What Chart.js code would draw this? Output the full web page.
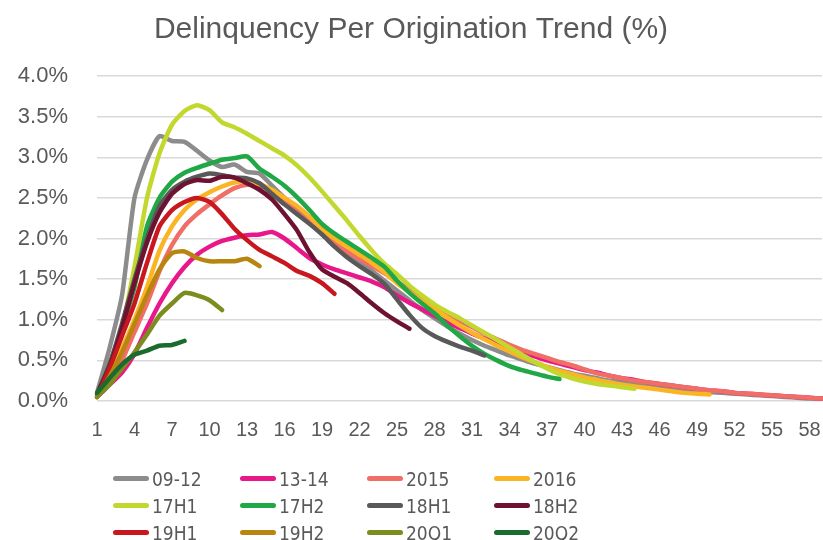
<!DOCTYPE html>
<html>
<head>
<meta charset="utf-8">
<script src="https://cdn.jsdelivr.net/npm/chart.js@4/dist/chart.umd.min.js"></script>
<style>
  body { margin: 0; background: #fff; }
  #wrap { position: relative; width: 823px; height: 540px; }
  #legend {
    position: absolute; left: 113px; top: 465px;
    display: grid; grid-template-columns: repeat(4, 127px); grid-auto-rows: 27px;
    font-family: "Liberation Sans Narrow", "DejaVu Sans Condensed", sans-serif;
    font-size: 19px; color: #595959;
  }
  .item { display: flex; align-items: center; }
  .swatch { width: 36px; height: 5px; border-radius: 3px; margin-right: 3px; }
</style>
</head>
<body>
<div id="wrap">
  <canvas id="graf" width="823" height="540"></canvas>
  <div id="legend"></div>
</div>
<script>
"use strict";

const maaneder = [1, 2, 3, 4, 5, 6, 7, 8, 9, 10, 11, 12, 13, 14, 15, 16, 17, 18, 19, 20,
  21, 22, 23, 24, 25, 26, 27, 28, 29, 30, 31, 32, 33, 34, 35, 36, 37, 38, 39, 40,
  41, 42, 43, 44, 45, 46, 47, 48, 49, 50, 51, 52, 53, 54, 55, 56, 57, 58, 59];
const visteMaaneder = [1, 4, 7, 10, 13, 16, 19, 22, 25, 28, 31, 34, 37, 40, 43, 46, 49, 52, 55, 58];
const yTicks = [0, 0.5, 1, 1.5, 2, 2.5, 3, 3.5, 4];

const navne = ["09-12", "13-14", "2015", "2016", "17H1", "17H2", "18H1", "18H2", "19H1", "19H2", "20Q1", "20Q2"];
const farver = ["#8c8c8c", "#e8178a", "#f06e66", "#fbb424", "#c3d82e", "#21a846",
                "#595959", "#6e1232", "#c8171e", "#b8860e", "#7d8c1e", "#1b6a2e"];

const s0912 = [0.1, 0.65, 1.3, 2.5, 2.97, 3.26, 3.2, 3.19, 3.08, 2.96, 2.88, 2.91, 2.82, 2.8, 2.65, 2.5, 2.35, 2.2, 2.05, 1.93,
  1.82, 1.72, 1.6, 1.48, 1.36, 1.24, 1.12, 1.02, 0.92, 0.83, 0.75, 0.68, 0.62, 0.56, 0.51, 0.46, 0.42, 0.38, 0.34, 0.31,
  0.28, 0.25, 0.23, 0.21, 0.19, 0.17, 0.15, 0.14, 0.12, 0.11, 0.1, 0.09, 0.08, 0.07, 0.06, 0.05, 0.04, 0.03, 0.03];
const s1314 = [0.05, 0.2, 0.35, 0.58, 0.9, 1.2, 1.45, 1.65, 1.8, 1.9, 1.97, 2.01, 2.04, 2.05, 2.08, 2.0, 1.88, 1.76, 1.68, 1.62,
  1.57, 1.52, 1.47, 1.4, 1.3, 1.21, 1.13, 1.05, 0.97, 0.9, 0.83, 0.77, 0.71, 0.65, 0.6, 0.55, 0.5, 0.46, 0.42, 0.38,
  0.35, 0.31, 0.28, 0.26, 0.23, 0.21, 0.19, 0.17, 0.15, 0.13, 0.12, 0.1, 0.09, 0.08, 0.07, 0.06, 0.05, 0.04, 0.03];
const s2015 = [0.05, 0.25, 0.5, 0.85, 1.2, 1.6, 1.92, 2.15, 2.3, 2.42, 2.53, 2.62, 2.66, 2.65, 2.58, 2.45, 2.33, 2.2, 2.06, 1.94,
  1.84, 1.75, 1.66, 1.57, 1.47, 1.37, 1.27, 1.17, 1.08, 0.99, 0.91, 0.83, 0.76, 0.69, 0.63, 0.58, 0.53, 0.48, 0.44, 0.39,
  0.34, 0.31, 0.28, 0.25, 0.23, 0.21, 0.19, 0.17, 0.15, 0.13, 0.12, 0.1, 0.09, 0.08, 0.07, 0.06, 0.05, 0.04, 0.03];
const s2016 = [0.05, 0.35, 0.65, 1.0, 1.4, 1.85, 2.15, 2.35, 2.48, 2.57, 2.64, 2.69, 2.7, 2.67, 2.6, 2.5, 2.4, 2.27, 2.12, 2.0,
  1.9, 1.8, 1.7, 1.58, 1.45, 1.34, 1.23, 1.13, 1.03, 0.93, 0.84, 0.76, 0.68, 0.61, 0.54, 0.48, 0.42, 0.37, 0.33, 0.29,
  0.26, 0.23, 0.2, 0.18, 0.16, 0.14, 0.12, 0.1, 0.09, 0.08];
const s17H1 = [0.05, 0.4, 0.9, 1.65, 2.5, 3.05, 3.4, 3.57, 3.64, 3.58, 3.43, 3.37, 3.29, 3.2, 3.11, 3.02, 2.9, 2.75, 2.58, 2.4,
  2.22, 2.03, 1.85, 1.69, 1.56, 1.42, 1.3, 1.19, 1.1, 1.02, 0.93, 0.84, 0.75, 0.66, 0.57, 0.48, 0.4, 0.33, 0.28, 0.24,
  0.21, 0.19, 0.17, 0.15];
const s17H2 = [0.08, 0.45, 0.9, 1.4, 2.15, 2.5, 2.7, 2.81, 2.87, 2.92, 2.97, 2.99, 3.01, 2.86, 2.76, 2.65, 2.51, 2.35, 2.18, 2.06,
  1.96, 1.86, 1.76, 1.65, 1.48, 1.33, 1.2, 1.08, 0.93, 0.8, 0.68, 0.58, 0.5, 0.43, 0.38, 0.34, 0.3, 0.27];
const s18H1 = [0.08, 0.45, 0.95, 1.5, 2.0, 2.4, 2.6, 2.7, 2.76, 2.8, 2.78, 2.75, 2.74, 2.68, 2.55, 2.42, 2.3, 2.18, 2.05, 1.9,
  1.77, 1.66, 1.56, 1.44, 1.25, 1.06, 0.9, 0.8, 0.73, 0.67, 0.62, 0.56];
const s18H2 = [0.08, 0.42, 0.9, 1.45, 1.95, 2.32, 2.55, 2.67, 2.72, 2.71, 2.76, 2.75, 2.68, 2.6, 2.48, 2.3, 2.1, 1.83, 1.62, 1.53,
  1.45, 1.33, 1.2, 1.08, 0.98, 0.89];
const s19H1 = [0.05, 0.4, 0.8, 1.2, 1.7, 2.15, 2.35, 2.45, 2.5, 2.45, 2.3, 2.12, 1.98, 1.86, 1.78, 1.7, 1.6, 1.54, 1.45, 1.32];
const s19H2 = [0.05, 0.3, 0.6, 0.95, 1.3, 1.62, 1.82, 1.84, 1.76, 1.72, 1.72, 1.72, 1.75, 1.66];
const s20Q1 = [0.05, 0.2, 0.4, 0.6, 0.82, 1.05, 1.2, 1.33, 1.3, 1.24, 1.12];
const s20Q2 = [0.1, 0.28, 0.45, 0.57, 0.62, 0.68, 0.69, 0.74];

const serier = [s0912, s1314, s2015, s2016, s17H1, s17H2, s18H1, s18H2, s19H1, s19H2, s20Q1, s20Q2];

const tekstFarve = "#595959";

new Chart(document.getElementById("graf").getContext("2d"), {
  type: "line",
  data: {
    labels: maaneder.map(String),
    datasets: serier.map((s, i) => ({
      label: navne[i],
      data: s,
      borderColor: farver[i],
      backgroundColor: farver[i],
      borderWidth: 4.5,
      borderCapStyle: "round",
      borderJoinStyle: "round",
      pointRadius: 0,
      tension: 0.2,
      fill: false,
      order: serier.length - i
    }))
  },
  options: {
    responsive: false,
    animation: false,
    layout: { padding: { top: 0, left: 0, right: 1, bottom: 81 } },
    plugins: {
      legend: { display: false },
      tooltip: { enabled: false },
      title: {
        display: true,
        text: "Delinquency Per Origination Trend (%)",
        color: tekstFarve,
        font: { family: "Liberation Sans", size: 30, weight: "normal" },
        padding: { top: 12, bottom: 28 }
      }
    },
    scales: {
      x: {
        type: "category",
        offset: false,
        afterFit: a => { a.paddingRight = 0; a.paddingLeft = 0; },
        grid: { display: false, drawTicks: false },
        border: { display: false },
        ticks: {
          autoSkip: false, maxRotation: 0, minRotation: 0, padding: 17,
          color: tekstFarve,
          font: { family: "Liberation Sans", size: 20 },
          callback: function (v, idx) {
            const m = maaneder[idx];
            return visteMaaneder.includes(m) ? String(m) : "";
          }
        }
      },
      y: {
        min: 0, max: 4,
        afterFit: a => { a.width = 97; },
        afterBuildTicks: a => { a.ticks = yTicks.map(v => ({ value: v })); },
        grid: { color: "#d9d9d9", lineWidth: 1.5, drawTicks: false },
        border: { display: false },
        ticks: {
          padding: 29,
          color: tekstFarve,
          font: { family: "Liberation Sans", size: 22 },
          callback: v => v.toFixed(1) + "%"
        }
      }
    }
  }
});

// legend in four columns like the original
const legend = document.getElementById("legend");
navne.forEach((n, i) => {
  const el = document.createElement("div");
  el.className = "item";
  el.innerHTML = `<span class="swatch" style="background:${farver[i]}"></span><span>${n}</span>`;
  legend.appendChild(el);
});
</script>
</body>
</html>
